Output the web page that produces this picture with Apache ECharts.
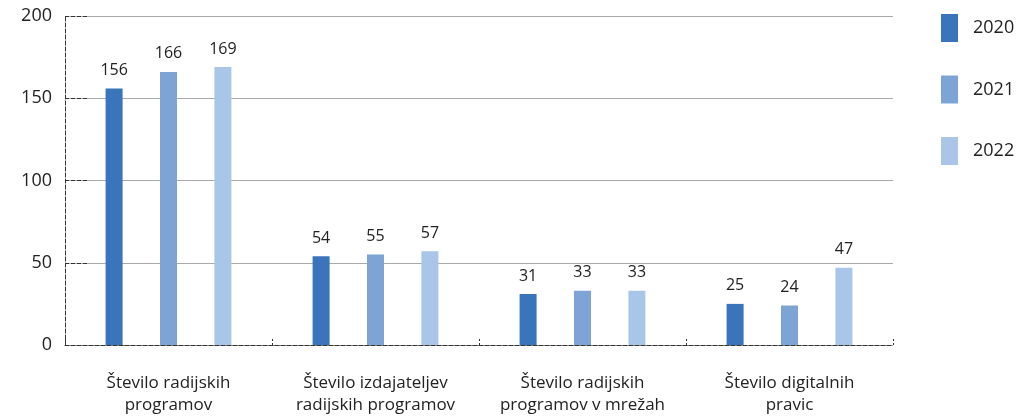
<!DOCTYPE html>
<html><head><meta charset="utf-8">
<script src="https://cdn.jsdelivr.net/npm/echarts@6/dist/echarts.min.js"></script>
<style>html,body{margin:0;padding:0;background:#fff}#c{width:1034px;height:419px}</style>
</head><body><div id="c"></div>
<script>
const categories = ["Število radijskih\nprogramov", "Število izdajateljev\nradijskih programov", "Število radijskih\nprogramov v mrežah", "Število digitalnih\npravic"];
const seriesNames = ["2020", "2021", "2022"];
const values2020 = [156, 54, 31, 25];
const values2021 = [166, 55, 33, 24];
const values2022 = [169, 57, 33, 47];
const colors = ["#3a74ba", "#7ea4d6", "#a9c6e9"];
const font = "'Open Sans', Lato, sans-serif";
const chart = echarts.init(document.getElementById('c'), null, {renderer: 'canvas'});
const allValues = [values2020, values2021, values2022];
chart.setOption({
  animation: false,
  textStyle: {fontFamily: font},
  grid: {left: 65, right: 141, top: 16, bottom: 74},
  legend: {
    orient: 'vertical', left: 936, top: 9,
    itemWidth: 17, itemHeight: 28, itemGap: 33.5,
    icon: 'rect',
    textStyle: {fontSize: 18, color: '#222', fontFamily: font, padding: [0, 0, 0, 10]},
    data: seriesNames
  },
  xAxis: {
    type: 'category', data: categories,
    axisLine: {lineStyle: {color: '#333', type: [4, 2], width: 1}},
    axisTick: {show: true, inside: true, length: 8, lineStyle: {color: '#333', type: [2, 2]}},
    axisLabel: {interval: 0, hideOverlap: false, fontSize: 17, color: '#222', lineHeight: 22, margin: 27, fontFamily: font}
  },
  yAxis: {
    type: 'value', min: 0, max: 200, interval: 50,
    axisLine: {show: true, lineStyle: {color: '#333', type: [4, 2], width: 1}},
    axisTick: {show: true, inside: true, length: 22, lineStyle: {color: '#333', type: [4, 2]}},
    splitLine: {show: true, lineStyle: {color: '#aaa', width: 1}},
    axisLabel: {fontSize: 18, color: '#222', margin: 13, fontFamily: font}
  },
  series: seriesNames.map((n, i) => ({
    name: n, type: 'bar', data: allValues[i],
    barWidth: 17, barGap: '220%',
    itemStyle: {color: colors[i]},
    label: {show: true, position: 'top', distance: 10, fontSize: 16, color: '#222', fontFamily: font}
  }))
});
</script></body></html>
